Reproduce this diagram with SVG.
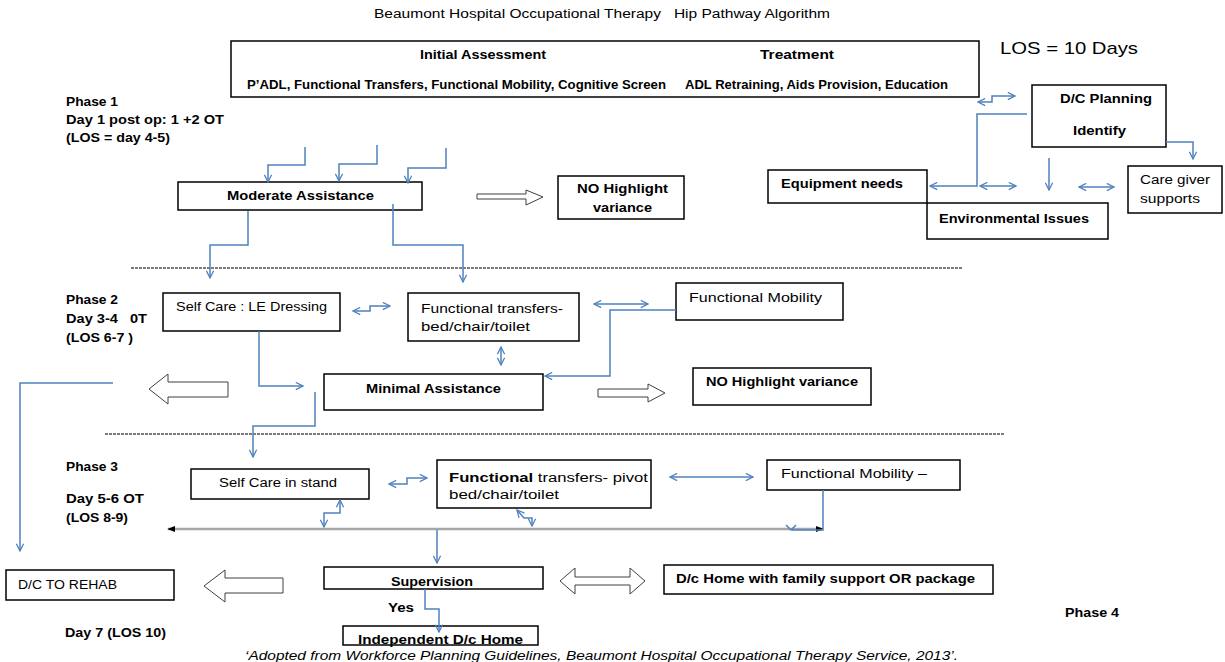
<svg xmlns="http://www.w3.org/2000/svg" width="1225" height="662" viewBox="0 0 1225 662">
<defs>
<marker id="ah" viewBox="0 0 10 10" refX="9" refY="5" markerWidth="9" markerHeight="9" markerUnits="userSpaceOnUse" orient="auto-start-reverse"><path d="M1,1 L9,5 L1,9" fill="none" stroke="#4F81BD" stroke-width="1.4"/></marker>
<marker id="bk" viewBox="0 0 10 10" refX="9" refY="5" markerWidth="8" markerHeight="8" markerUnits="userSpaceOnUse" orient="auto-start-reverse"><path d="M0,1 L10,5 L0,9z" fill="#000"/></marker>
<style>
text{font-family:"Liberation Sans",Arial,sans-serif;fill:#000}
.b{font-weight:bold;font-size:12.5px}
.r{font-size:12.5px}
.ph{font-weight:bold;font-size:12px}
.box{fill:#fff;stroke:#000;stroke-width:1.5}
.c{fill:none;stroke:#4F81BD;stroke-width:1.5}
.ca{fill:none;stroke:#4F81BD;stroke-width:1.5;marker-end:url(#ah)}
.cd{fill:none;stroke:#4F81BD;stroke-width:1.5;marker-end:url(#ah);marker-start:url(#ah)}
.dash{stroke:#505050;stroke-width:1.6;stroke-dasharray:3 1}
.blk{fill:#fff;stroke:#404040;stroke-width:1}
</style>
</defs>
<rect width="1225" height="662" fill="#fff"/>

<text x="374" y="18" font-size="12" textLength="456" lengthAdjust="spacingAndGlyphs" xml:space="preserve">Beaumont Hospital Occupational Therapy   Hip Pathway Algorithm</text>

<g id="initial-assessment">
<rect class="box" x="231" y="41" width="748" height="56"/>
<text class="b" x="420" y="59" textLength="126" lengthAdjust="spacingAndGlyphs">Initial Assessment</text>
<text class="b" x="760" y="59" textLength="74" lengthAdjust="spacingAndGlyphs">Treatment</text>
<text class="b" x="247" y="89" font-size="11.5" textLength="419" lengthAdjust="spacingAndGlyphs">P’ADL, Functional Transfers, Functional Mobility, Cognitive Screen</text>
<text class="b" x="685" y="89" font-size="11.5" textLength="263" lengthAdjust="spacingAndGlyphs">ADL Retraining, Aids Provision, Education</text>
</g>
<text x="1000" y="54" font-size="17" textLength="138" lengthAdjust="spacingAndGlyphs">LOS = 10 Days</text>

<g id="phase-labels">
<text class="ph" x="66" y="106" textLength="52" lengthAdjust="spacingAndGlyphs">Phase 1</text>
<text class="ph" x="66" y="124" textLength="158" lengthAdjust="spacingAndGlyphs">Day 1 post op: 1 +2 OT</text>
<text class="ph" x="66" y="142" textLength="104" lengthAdjust="spacingAndGlyphs">(LOS = day 4-5)</text>
<text class="ph" x="66" y="304" textLength="52" lengthAdjust="spacingAndGlyphs">Phase 2</text>
<text class="ph" x="66" y="323" textLength="81" lengthAdjust="spacingAndGlyphs" xml:space="preserve">Day 3-4   0T</text>
<text class="ph" x="66" y="342" textLength="67" lengthAdjust="spacingAndGlyphs">(LOS 6-7 )</text>
<text class="ph" x="66" y="471" textLength="52" lengthAdjust="spacingAndGlyphs">Phase 3</text>
<text class="ph" x="66" y="503" textLength="78" lengthAdjust="spacingAndGlyphs">Day 5-6 OT</text>
<text class="ph" x="66" y="522" textLength="62" lengthAdjust="spacingAndGlyphs">(LOS 8-9)</text>
<text class="ph" x="65" y="637" textLength="101" lengthAdjust="spacingAndGlyphs">Day 7 (LOS 10)</text>
<text class="ph" x="1065" y="617" textLength="54" lengthAdjust="spacingAndGlyphs">Phase 4</text>
</g>

<g id="moderate-assistance">
<rect class="box" x="178" y="182" width="244" height="28"/>
<text class="b" x="227" y="200" textLength="147" lengthAdjust="spacingAndGlyphs">Moderate Assistance</text>
</g>
<g id="no-highlight-1">
<rect class="box" x="558" y="176" width="126" height="43"/>
<text class="b" x="577" y="193" textLength="91" lengthAdjust="spacingAndGlyphs">NO Highlight</text>
<text class="b" x="593" y="212" textLength="59" lengthAdjust="spacingAndGlyphs">variance</text>
</g>
<g id="dc-planning">
<rect class="box" x="1032" y="85" width="134" height="62"/>
<text class="b" x="1060" y="103" textLength="92" lengthAdjust="spacingAndGlyphs">D/C Planning</text>
<text class="b" x="1073" y="135" textLength="53" lengthAdjust="spacingAndGlyphs">Identify</text>
</g>
<g id="equipment-needs">
<rect class="box" x="768" y="170" width="159" height="33"/>
<text class="b" x="781" y="188" textLength="122" lengthAdjust="spacingAndGlyphs">Equipment needs</text>
</g>
<g id="environmental-issues">
<rect class="box" x="927" y="203" width="181" height="36"/>
<text class="b" x="939" y="223" textLength="150" lengthAdjust="spacingAndGlyphs">Environmental Issues</text>
</g>
<g id="care-giver">
<rect class="box" x="1128" y="166" width="94" height="47"/>
<text class="r" x="1140" y="184" textLength="70" lengthAdjust="spacingAndGlyphs">Care giver</text>
<text class="r" x="1140" y="203" textLength="60" lengthAdjust="spacingAndGlyphs">supports</text>
</g>

<g id="self-care-le">
<rect class="box" x="163" y="293" width="177" height="38"/>
<text class="r" x="176" y="311" textLength="151" lengthAdjust="spacingAndGlyphs">Self Care : LE Dressing</text>
</g>
<g id="functional-transfers-2">
<rect class="box" x="408" y="293" width="171" height="48"/>
<text class="r" x="421" y="313" textLength="142" lengthAdjust="spacingAndGlyphs">Functional transfers-</text>
<text class="r" x="421" y="331" textLength="109" lengthAdjust="spacingAndGlyphs">bed/chair/toilet</text>
</g>
<g id="functional-mobility-2">
<rect class="box" x="676" y="283" width="167" height="37"/>
<text class="r" x="689" y="302" textLength="133" lengthAdjust="spacingAndGlyphs">Functional Mobility</text>
</g>
<g id="minimal-assistance">
<rect class="box" x="324" y="374" width="219" height="36"/>
<text class="b" x="366" y="393" textLength="135" lengthAdjust="spacingAndGlyphs">Minimal Assistance</text>
</g>
<g id="no-highlight-2">
<rect class="box" x="693" y="368" width="178" height="37"/>
<text class="b" x="706" y="386" textLength="152" lengthAdjust="spacingAndGlyphs">NO Highlight variance</text>
</g>

<g id="self-care-stand">
<rect class="box" x="191" y="469" width="178" height="30"/>
<text class="r" x="219" y="487" textLength="118" lengthAdjust="spacingAndGlyphs">Self Care in stand</text>
</g>
<g id="functional-transfers-3">
<rect class="box" x="437" y="460" width="214" height="48"/>
<text class="r" x="449" y="482" textLength="199" lengthAdjust="spacingAndGlyphs"><tspan font-weight="bold">Functional</tspan> transfers- pivot</text>
<text class="r" x="449" y="499" textLength="110" lengthAdjust="spacingAndGlyphs">bed/chair/toilet</text>
</g>
<g id="functional-mobility-3">
<rect class="box" x="767" y="460" width="193" height="30"/>
<text class="r" x="781" y="478" textLength="146" lengthAdjust="spacingAndGlyphs">Functional Mobility –</text>
</g>
<g id="dc-rehab">
<rect class="box" x="6" y="570" width="168" height="30"/>
<text class="r" x="18" y="589" textLength="99" lengthAdjust="spacingAndGlyphs">D/C TO REHAB</text>
</g>
<g id="supervision">
<rect class="box" x="324" y="567" width="219" height="22"/>
<text class="b" x="391" y="586" textLength="82" lengthAdjust="spacingAndGlyphs">Supervision</text>
</g>
<g id="dc-home-family">
<rect class="box" x="664" y="565" width="329" height="29"/>
<text class="b" x="676" y="583" textLength="299" lengthAdjust="spacingAndGlyphs">D/c Home with family support OR package</text>
</g>
<g id="independent-home">
<rect class="box" x="343" y="626" width="195" height="19"/>
<text class="b" x="358" y="644" textLength="165" lengthAdjust="spacingAndGlyphs">Independent D/c Home</text>
</g>

<g id="dividers">
<line class="dash" x1="131" y1="268" x2="963" y2="268"/>
<line class="dash" x1="105" y1="434" x2="1004" y2="434"/>
</g>

<g id="block-arrows">
<polygon class="blk" points="477,194 526,194 526,190 543,197 526,205 526,199 477,199"/>
<polygon class="blk" points="149,389 168,374 168,382 228,382 228,397 168,397 168,404"/>
<polygon class="blk" points="598,389 648,389 648,384 665,393 648,402 648,397 598,397"/>
<polygon class="blk" points="204,586 225,570 225,578 283,578 283,593 225,593 225,602"/>
<polygon class="blk" points="560,581 575,568 575,577 630,577 630,568 645,581 630,594 630,585 575,585 575,594"/>
</g>

<g id="connectors">
<path class="ca" d="M305,147 V165 H268 V182"/>
<path class="ca" d="M377,145 V164 H339 V181"/>
<path class="ca" d="M446,148 V168 H408 V183"/>
<path class="ca" d="M248,211 V245 H210 V278"/>
<path class="ca" d="M393,204 V245 H463 V282"/>
<path class="cd" d="M978,102 H992 V96 H1015"/>
<path class="ca" d="M1027,114 H977 V186 H930"/>
<path class="cd" d="M980,186 H1016"/>
<path class="ca" d="M1049,158 V190"/>
<path class="cd" d="M1079,187 H1114"/>
<path class="ca" d="M1166,142 H1193 V159"/>
<path class="cd" d="M353,311 H370 V306 H390"/>
<path class="cd" d="M501,347 V365"/>
<path class="ca" d="M259,331 V386 H303"/>
<path class="ca" d="M676,310 H610 V376 H545"/>
<path class="cd" d="M594,304 H648"/>
<path class="ca" d="M315,392 V426 H253 V457"/>
<path class="ca" d="M113,383 H20 V551"/>
<path class="cd" d="M389,484 H407 V478 H427"/>
<path class="cd" d="M340,500 V513 H324 V527"/>
<path class="cd" d="M517,510 L524,518 H532 V526"/>
<path class="cd" d="M670,477 H753"/>
<line x1="168" y1="529" x2="823" y2="529" stroke="#A6A6A6" stroke-width="2.5" marker-start="url(#bk)" marker-end="url(#bk)"/>
<path class="c" d="M823,490 V530 H792"/>
<path class="c" d="M786,525 L791,530 L796,525"/>
<path class="ca" d="M437,530 V563"/>
<path class="ca" d="M425,589 V609 H439 V632"/>
</g>
<text class="ph" x="388" y="612" textLength="26" lengthAdjust="spacingAndGlyphs">Yes</text>

<text x="245" y="660" font-size="12.5" font-style="italic" textLength="713" lengthAdjust="spacingAndGlyphs">‘Adopted from Workforce Planning Guidelines, Beaumont Hospital Occupational Therapy Service, 2013’.</text>
</svg>
